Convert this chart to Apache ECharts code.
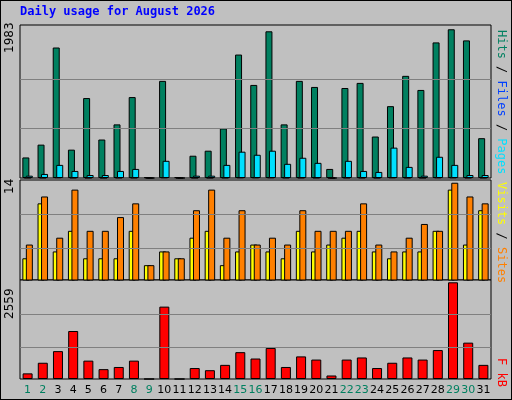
<!DOCTYPE html>
<html><head><meta charset="utf-8">
<script src="https://cdn.jsdelivr.net/npm/echarts@6/dist/echarts.min.js"></script>
<style>html,body{margin:0;padding:0;background:#fff}
#c{width:510px;height:398px;border:1px solid #000;background:#c0c0c0}</style></head>
<body><div id="c"></div>
<script>
const days = Array.from({length:31},(_,i)=>String(i+1));
const weekend = [1,2,8,9,15,16,22,23,29,30];
const hits = [274,445,1740,378,1066,513,715,1079,10,1295,10,297,364,661,1646,1241,1956,715,1295,1214,121,1200,1268,553,958,1362,1174,1808,1983,1835,531];
const files = [31,54,175,94,40,40,94,121,0,229,0,31,31,175,351,310,364,189,270,202,0,229,94,81,405,148,31,283,175,40,40];
const pages = [5,5,10,5,3,3,5,5,0,8,0,3,3,5,8,8,8,5,5,5,0,5,5,3,8,5,3,8,8,5,5];
const sites = [4,12,5,8,4,4,4,8,3,5,4,7,8,3,5,6,5,4,8,5,6,7,8,5,4,5,5,8,14,6,11];
const visits = [6,13,7,14,8,8,10,12,3,5,4,11,14,7,11,6,7,6,11,8,8,8,12,6,5,7,9,8,15,13,12];
const kbytes = [149,430,738,1270,486,261,318,486,0,1915,0,290,233,374,710,542,822,318,598,514,93,514,570,290,430,570,514,766,2559,962,374];

const ch = echarts.init(document.getElementById('c'));
const L=19, W=471;
const grids=[{left:L,top:24,width:W,height:153},{left:L,top:179,width:W,height:100},{left:L,top:279,width:W,height:99}];
const bord={borderColor:'#000',borderWidth:1};
function xa(i,lab){return {gridIndex:i,type:'category',data:days,axisTick:{show:false},axisLine:{show:false},
 axisLabel:{show:lab,interval:0,fontFamily:'DejaVu Sans',fontSize:11,margin:6,
  color:(v)=>weekend.includes(+v)?'#008060':'#000'}};}
function ya(i,min,max){return {gridIndex:i,min:min,max:max,axisLabel:{show:false},axisLine:{show:false},axisTick:{show:false},splitLine:{show:false}};}
function ml(vals){return {silent:true,symbol:'none',label:{show:false},lineStyle:{color:'#808080',type:'solid',width:1},data:vals.map(v=>({yAxis:v}))};}
const txt=(x,y,t,c,rot,fs,ff,fw)=>({type:'text',left:x,top:y,rotation:rot||0,style:{text:t,fill:c,font:(fw||'normal')+' '+(fs||12)+'px '+(ff||'DejaVu Sans')}});
ch.setOption({
 animation:false,
 grid:grids.map(g=>Object.assign({show:true,backgroundColor:'#c0c0c0',borderColor:'#000',borderWidth:1},g)),
 xAxis:[xa(0,false),xa(1,false),xa(2,true)],
 yAxis:[ya(0,0,2040),ya(1,0.84,15.4),ya(2,0,2620)],
 series:[
  {type:'bar',name:'Hits',xAxisIndex:0,yAxisIndex:0,data:hits,barWidth:7,barGap:'-75%',itemStyle:Object.assign({color:'#008060'},bord),markLine:ml([661,1322])},
  {type:'bar',name:'Pages',xAxisIndex:0,yAxisIndex:0,data:pages,barWidth:7,barGap:'-75%',itemStyle:Object.assign({color:'#0040ff'},bord)},
  {type:'bar',name:'Files',xAxisIndex:0,yAxisIndex:0,data:files,barWidth:7,barGap:'-75%',itemStyle:Object.assign({color:'#00e0ff'},bord)},
  {type:'bar',name:'Sites',xAxisIndex:1,yAxisIndex:1,data:sites,barWidth:7,barGap:'-50%',itemStyle:Object.assign({color:'#ffff00'},bord),markLine:ml([5.43,10.48])},
  {type:'bar',name:'Visits',xAxisIndex:1,yAxisIndex:1,data:visits,barWidth:7,barGap:'-50%',itemStyle:Object.assign({color:'#ff8000'},bord)},
  {type:'bar',name:'kB',xAxisIndex:2,yAxisIndex:2,data:kbytes,barWidth:10,itemStyle:Object.assign({color:'#ff0000'},bord),markLine:ml([853,1706])}
 ],
 graphic:[
  txt(19,5,'Daily usage for August 2026','#0000ff',0,12,'DejaVu Sans Mono','bold'),
  {type:'text',x:5,y:50,rotation:Math.PI/2,style:{text:'1983',fill:'#000',font:'12px DejaVu Sans'}},
  {type:'text',x:5,y:192,rotation:Math.PI/2,style:{text:'14',fill:'#000',font:'12px DejaVu Sans'}},
  {type:'text',x:5,y:320,rotation:Math.PI/2,style:{text:'2559',fill:'#000',font:'12px DejaVu Sans'}},
  {type:'text',x:494,y:29,rotation:-Math.PI/2,style:{text:'',rich:{}}},
  {type:'text',x:495,y:138,rotation:Math.PI/2,style:{text:'{a|Pages}{s| / }{b|Files}{s| / }{c|Hits}',font:'12px DejaVu Sans Mono',
    rich:{a:{fill:'#00e0ff',font:'12px DejaVu Sans Mono'},s:{fill:'#000',font:'12px DejaVu Sans Mono'},b:{fill:'#0040ff',font:'12px DejaVu Sans Mono'},c:{fill:'#008060',font:'12px DejaVu Sans Mono'}}},
   transform:null},
 ]
});
// rotate right-side labels reading bottom-to-top
ch.setOption({graphic:[]},{replaceMerge:['graphic']});
const g2=[
  txt(19,5,'Daily usage for August 2026','#0000ff',0,12,'DejaVu Sans Mono','bold'),
  {type:'text',x:9,y:52,rotation:Math.PI/2,style:{text:'1983',fill:'#000',font:'12px DejaVu Sans',align:'left',verticalAlign:'middle'}},
  {type:'text',x:9,y:193,rotation:Math.PI/2,style:{text:'14',fill:'#000',font:'12px DejaVu Sans',align:'left',verticalAlign:'middle'}},
  {type:'text',x:9,y:318,rotation:Math.PI/2,style:{text:'2559',fill:'#000',font:'12px DejaVu Sans',align:'left',verticalAlign:'middle'}},
  {type:'text',x:500,y:29,rotation:-Math.PI/2,style:{text:'{c|Hits}{s| / }{b|Files}{s| / }{a|Pages}',align:'left',verticalAlign:'middle',
    rich:{a:{fill:'#00e0ff',font:'12px DejaVu Sans Mono'},s:{fill:'#000',font:'12px DejaVu Sans Mono'},b:{fill:'#0040ff',font:'12px DejaVu Sans Mono'},c:{fill:'#008060',font:'12px DejaVu Sans Mono'}}}},
  {type:'text',x:500,y:181,rotation:-Math.PI/2,style:{text:'{b|Visits}{s| / }{a|Sites}',align:'left',verticalAlign:'middle',
    rich:{a:{fill:'#ff8000',font:'12px DejaVu Sans Mono'},s:{fill:'#000',font:'12px DejaVu Sans Mono'},b:{fill:'#ffff00',font:'12px DejaVu Sans Mono'}}}},
  {type:'text',x:500,y:357,rotation:-Math.PI/2,style:{text:'F kB',fill:'#ff0000',font:'12px DejaVu Sans Mono',align:'left',verticalAlign:'middle'}}
];
ch.setOption({graphic:g2});
</script></body></html>
